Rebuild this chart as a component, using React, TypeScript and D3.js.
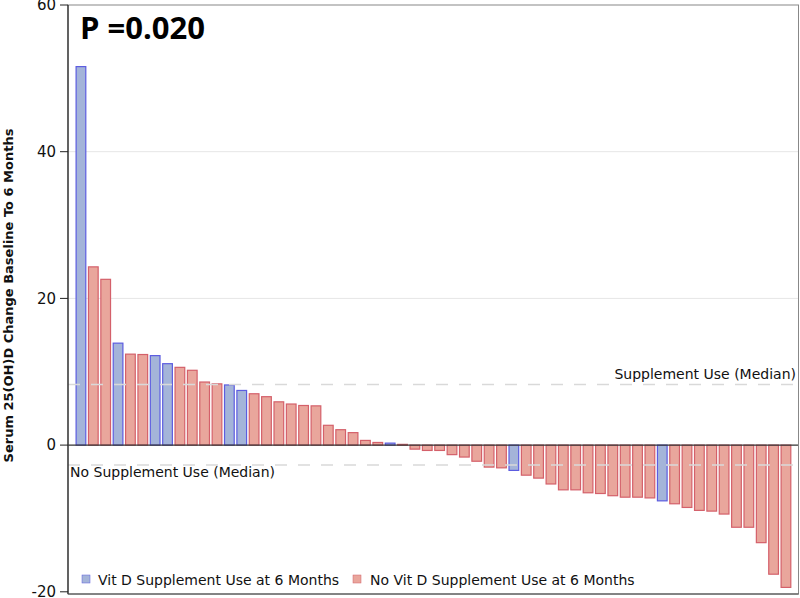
import React from "react";
import * as d3 from "d3";

const values: number[] = [
  51.6, 24.3, 22.6, 13.9, 12.4, 12.35, 12.2, 11.1, 10.6, 10.2,
  8.6, 8.35, 8.2, 7.45, 7.0, 6.6, 5.9, 5.6, 5.4, 5.35,
  2.7, 2.1, 1.7, 0.64, 0.36, 0.27, 0.1, -0.55, -0.73, -0.73,
  -1.3, -1.63, -2.2, -3.0, -3.1, -3.45, -4.1, -4.5, -5.3, -6.1,
  -6.1, -6.5, -6.6, -6.9, -7.1, -7.1, -7.2, -7.6, -8.0, -8.5,
  -8.9, -9.0, -9.4, -11.2, -11.2, -13.3, -17.6, -19.4,
];
// 1 = Vit D supplement use, 0 = no supplement
const groups: number[] = [
  1, 0, 0, 1, 0, 0, 1, 1, 0, 0,
  0, 0, 1, 1, 0, 0, 0, 0, 0, 0,
  0, 0, 0, 0, 0, 1, 0, 0, 0, 0,
  0, 0, 0, 0, 0, 1, 0, 0, 0, 0,
  0, 0, 0, 0, 0, 0, 0, 1, 0, 0,
  0, 0, 0, 0, 0, 0, 0, 0,
];
const yTicks: number[] = [-20, 0, 20, 40, 60];
const gridTicks: number[] = [20, 40];
const medianSupplement = 8.27;
const medianNoSupplement = -2.7;
const legendLabels: string[] = [
  "Vit D Supplement Use at 6 Months",
  "No Vit D Supplement Use at 6 Months",
];
const pLabel = "P =0.020";
const yTitle = "Serum 25(OH)D Change Baseline To 6 Months";

const W = 800;
const H = 598;
const left = 68;
const right = 798.5;
const top = 5;
const bottom = 594;

const fill = ["#e9a69c", "#a4b4d9"];
const stroke = ["#d4606a", "#5c5ce0"];

export default function App() {
  const y = d3.scaleLinear().domain([-20, 60]).range([591.8, 5]);
  const x = d3
    .scaleBand<number>()
    .domain(values.map((_, i) => i))
    .range([left + 7.6, right - 7.2])
    .paddingInner(0.135)
    .paddingOuter(0.0);
  const font = "'DejaVu Sans', sans-serif";
  return (
    <svg
      width={W}
      height={H}
      style={{ position: "absolute", left: 0, top: 0, background: "#fff" }}
      fontFamily={font}
    >
      <rect x={left} y={top} width={right - left} height={bottom - top} fill="#fff" />
      {gridTicks.map((t) => (
        <line key={t} x1={left} x2={right} y1={y(t)} y2={y(t)} stroke="#e6e6e6" strokeWidth={1} />
      ))}
      {values.map((v, i) => {
        const g = groups[i];
        const y0 = y(0);
        const y1 = y(v);
        return (
          <rect
            key={i}
            x={x(i)! + 0.5}
            y={Math.min(y0, y1)}
            width={x.bandwidth() - 1}
            height={Math.max(Math.abs(y1 - y0), 0.8)}
            fill={fill[g]}
            stroke={stroke[g]}
            strokeWidth={1.2}
          />
        );
      })}
      <line x1={left} x2={right} y1={y(medianSupplement)} y2={y(medianSupplement)} stroke="#d9d9d9" strokeWidth={1.5} strokeDasharray="12,11" />
      <line x1={left} x2={right} y1={y(medianNoSupplement)} y2={y(medianNoSupplement)} stroke="#d9d9d9" strokeWidth={1.5} strokeDasharray="12,11" />
      <line x1={left} x2={right} y1={y(0)} y2={y(0)} stroke="#333" strokeWidth={1.2} />
      <text x={796} y={y(medianSupplement) - 5} textAnchor="end" fontSize={14} fill="#111">
        Supplement Use (Median)
      </text>
      <text x={70} y={y(medianNoSupplement) + 12} fontSize={14} fill="#111">
        No Supplement Use (Median)
      </text>
      {/* frame */}
      <rect x={left} y={top} width={right - left} height={bottom - top} fill="none" stroke="#888" strokeWidth={1} />
      <line x1={left} x2={left} y1={top} y2={bottom} stroke="#222" strokeWidth={1.2} />
      <line x1={left} x2={right} y1={bottom} y2={bottom} stroke="#444" strokeWidth={1.2} />
      {yTicks.map((t) => (
        <g key={t}>
          <line x1={left - 8} x2={left} y1={y(t)} y2={y(t)} stroke="#222" strokeWidth={1} />
          <text x={left - 12} y={y(t)} dy="0.35em" textAnchor="end" fontSize={15} fill="#111">
            {t}
          </text>
        </g>
      ))}
      <text
        transform={`translate(13, ${(top + bottom) / 2 - 4}) rotate(-90)`}
        textAnchor="middle"
        fontSize={13}
        fontWeight="bold"
        fill="#111"
      >
        {yTitle}
      </text>
      <text x={80} y={39} fontSize={31} fontWeight="bold" fill="#000" fontFamily="'Open Sans', sans-serif">
        {pLabel}
      </text>
      {/* legend */}
      <rect x={82} y={575} width={8} height={8} fill={fill[1]} stroke={stroke[1]} strokeWidth={0.5} />
      <text x={98} y={585} fontSize={14} fill="#111">{legendLabels[0]}</text>
      <rect x={353} y={575} width={8} height={8} fill={fill[0]} stroke={stroke[0]} strokeWidth={0.5} />
      <text x={370} y={585} fontSize={14} fill="#111">{legendLabels[1]}</text>
    </svg>
  );
}
